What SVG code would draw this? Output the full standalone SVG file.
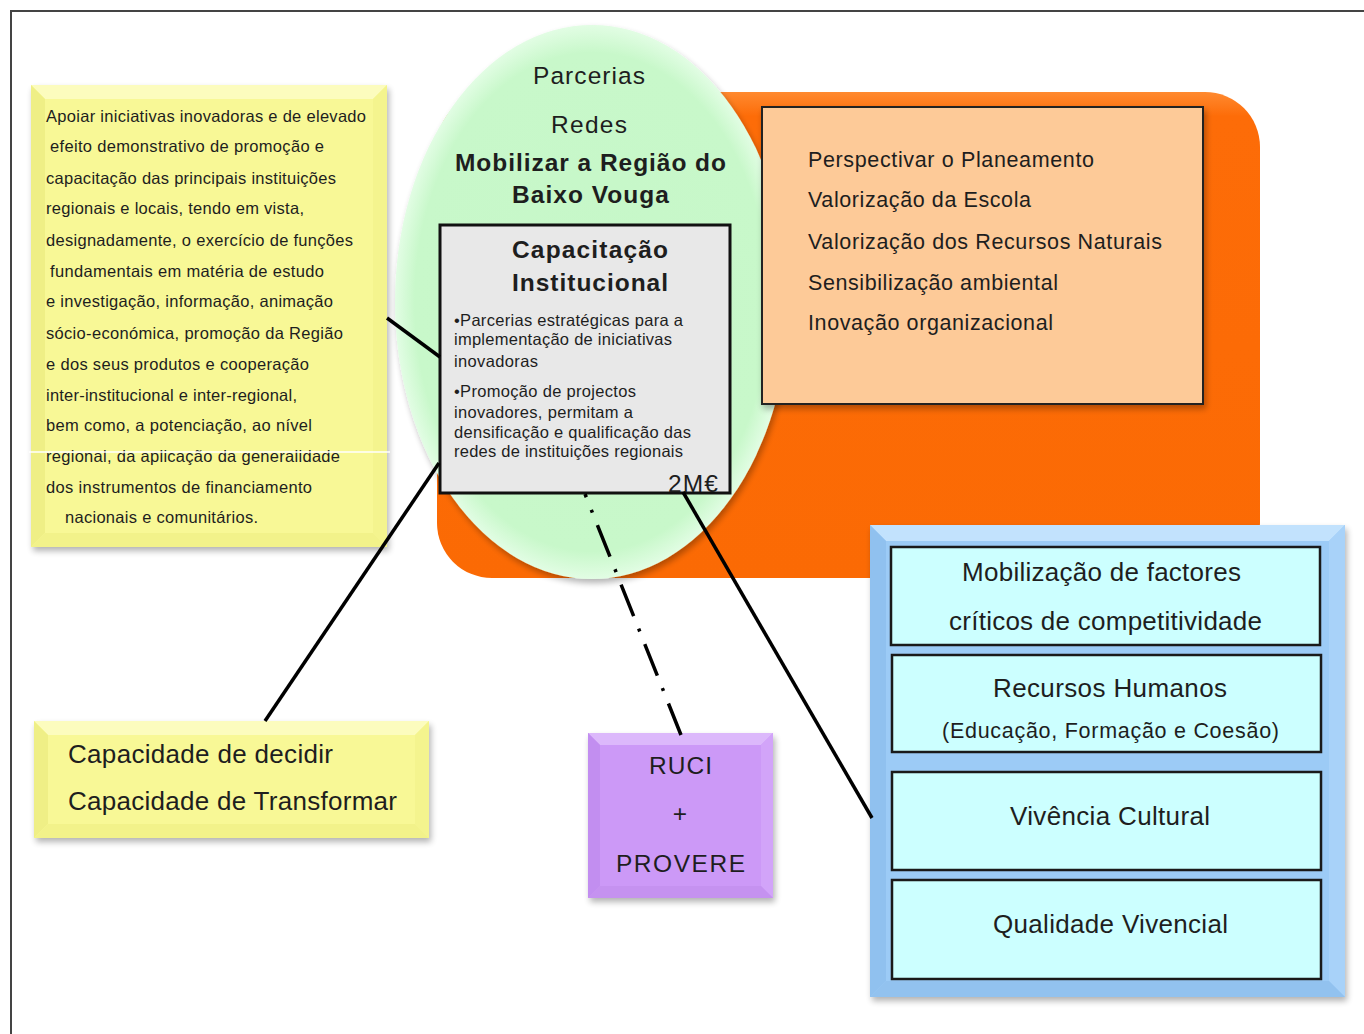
<svg xmlns="http://www.w3.org/2000/svg" width="1364" height="1034" viewBox="0 0 1364 1034">
<style>
text{font-family:"Liberation Sans",Arial,sans-serif;fill:#1e1e1e}
.sm{font-size:16.5px}
.md{font-size:21.5px}
.lg{font-size:24.5px}
.xl{font-size:26px}
.b{font-weight:bold}
.conn{stroke:#000;stroke-width:3.5;fill:none}
.inner{fill:#ccffff;stroke:#1a1a1a;stroke-width:2.5}
</style>
<defs>
<filter id="sh" x="-10%" y="-10%" width="130%" height="130%">
<feGaussianBlur in="SourceAlpha" stdDeviation="3"/>
<feOffset dx="2" dy="4"/>
<feComponentTransfer><feFuncA type="linear" slope="0.3"/></feComponentTransfer>
<feMerge><feMergeNode/><feMergeNode in="SourceGraphic"/></feMerge>
</filter>
<radialGradient id="gr" cx="0.5" cy="0.5" r="0.5">
<stop offset="0" stop-color="#c6f7c8"/>
<stop offset="0.9" stop-color="#c8f8ca"/>
<stop offset="1" stop-color="#e2fde4"/>
</radialGradient>
<linearGradient id="og" x1="0" y1="0" x2="0" y2="1">
<stop offset="0" stop-color="#ff8a30"/>
<stop offset="0.05" stop-color="#fd6c08"/>
<stop offset="1" stop-color="#fb6a04"/>
</linearGradient>
</defs>

<rect x="11" y="11" width="1400" height="1100" fill="#fff" stroke="#444" stroke-width="2"/>

<g id="yellow-text-box" filter="url(#sh)">
<rect x="31" y="85" width="356" height="462" fill="#f8f896"/>
<polygon points="31,85 387,85 373,99 45,99" fill="#fcfcbe"/>
<polygon points="31,85 45,99 45,533 31,547" fill="#efef86"/>
<polygon points="387,85 387,547 373,533 373,99" fill="#f4f48e"/>
<polygon points="31,547 45,533 373,533 387,547" fill="#f2f28a"/>
</g>
<g id="yellow-text">
<text class="sm" x="46" y="122" textLength="320">Apoiar iniciativas inovadoras e de elevado</text>
<text class="sm" x="50" y="152" textLength="274">efeito demonstrativo de promoção e</text>
<text class="sm" x="46" y="184" textLength="290">capacitação das principais instituições</text>
<text class="sm" x="46" y="214" textLength="258">regionais e locais, tendo em vista,</text>
<text class="sm" x="46" y="246" textLength="307">designadamente, o exercício de funções</text>
<text class="sm" x="50" y="277" textLength="274">fundamentais em matéria de estudo</text>
<text class="sm" x="46" y="307" textLength="287">e investigação, informação, animação</text>
<text class="sm" x="46" y="339" textLength="297">sócio-económica, promoção da Região</text>
<text class="sm" x="46" y="370" textLength="263">e dos seus produtos e cooperação</text>
<text class="sm" x="46" y="401" textLength="251">inter-institucional e inter-regional,</text>
<text class="sm" x="46" y="431" textLength="266">bem como, a potenciação, ao nível</text>
<text class="sm" x="46" y="462" textLength="294">regional, da aplicação da generalidade</text>
<text class="sm" x="46" y="493" textLength="266">dos instrumentos de financiamento</text>
<text class="sm" x="65" y="523" textLength="193">nacionais e comunitários.</text>
<line x1="29" y1="452" x2="390" y2="452" stroke="#fff" stroke-width="1.5"/>
</g>

<g id="orange-area">
<rect x="437" y="92" width="823" height="486" rx="55" ry="55" fill="url(#og)"/>
</g>

<g id="green-ellipse">
<ellipse cx="592" cy="302" rx="197" ry="277" fill="url(#gr)" filter="url(#sh)"/>
<text class="lg" x="533" y="84" textLength="112">Parcerias</text>
<text class="lg" x="551" y="133" textLength="76">Redes</text>
<text class="lg b" x="455" y="171" textLength="271">Mobilizar a Região do</text>
<text class="lg b" x="512" y="203" textLength="157">Baixo Vouga</text>
</g>

<g id="peach-box">
<rect x="762" y="107" width="441" height="297" fill="#fdca98" stroke="#222" stroke-width="2" filter="url(#sh)"/>
<text class="md" x="808" y="167" textLength="286">Perspectivar o Planeamento</text>
<text class="md" x="808" y="207" textLength="223">Valorização da Escola</text>
<text class="md" x="808" y="249" textLength="354">Valorização dos Recursos Naturais</text>
<text class="md" x="808" y="290" textLength="250">Sensibilização ambiental</text>
<text class="md" x="808" y="330" textLength="245">Inovação organizacional</text>
</g>

<g id="capacitacao-box">
<rect x="440" y="225" width="290" height="268" fill="#e8e8e8" stroke="#111" stroke-width="3"/>
<text class="lg b" x="512" y="258" textLength="156">Capacitação</text>
<text class="lg b" x="512" y="291" textLength="156">Institucional</text>
<text class="sm" x="454" y="326" textLength="229">•Parcerias estratégicas para a</text>
<text class="sm" x="454" y="345" textLength="218">implementação de iniciativas</text>
<text class="sm" x="454" y="367" textLength="84">inovadoras</text>
<text class="sm" x="454" y="397" textLength="182">•Promoção de projectos</text>
<text class="sm" x="454" y="418" textLength="179">inovadores, permitam a</text>
<text class="sm" x="454" y="438" textLength="237">densificação e qualificação das</text>
<text class="sm" x="454" y="457" textLength="229">redes de instituições regionais</text>
<text class="lg" x="668" y="492" textLength="50">2M€</text>
</g>

<g id="blue-box" filter="url(#sh)">
<rect x="870" y="525" width="475" height="472" fill="#9ccbf6"/>
<polygon points="870,525 1345,525 1329,541 886,541" fill="#c2e2fd"/>
<polygon points="870,525 886,541 886,981 870,997" fill="#90c1ef"/>
<polygon points="1345,525 1345,997 1329,981 1329,541" fill="#a8d2f9"/>
<polygon points="870,997 886,981 1329,981 1345,997" fill="#92c2ef"/>
</g>
<g id="mobilizacao">
<rect class="inner" x="891" y="547" width="429" height="98"/>
<text class="xl" x="962" y="581" textLength="279">Mobilização de factores</text>
<text class="xl" x="949" y="630" textLength="313">críticos de competitividade</text>
</g>
<g id="recursos-humanos">
<rect class="inner" x="892" y="655" width="429" height="97"/>
<text class="xl" x="993" y="697" textLength="234">Recursos Humanos</text>
<text class="md" x="942" y="738" textLength="337">(Educação, Formação e Coesão)</text>
</g>
<g id="vivencia-cultural">
<rect class="inner" x="892" y="772" width="429" height="98"/>
<text class="xl" x="1010" y="825" textLength="200">Vivência Cultural</text>
</g>
<g id="qualidade-vivencial">
<rect class="inner" x="892" y="880" width="429" height="99"/>
<text class="xl" x="993" y="933" textLength="235">Qualidade Vivencial</text>
</g>

<g id="capacidade-box">
<g filter="url(#sh)">
<rect x="34" y="721" width="395" height="117" fill="#f8f896"/>
<polygon points="34,721 429,721 415,735 48,735" fill="#fcfcbe"/>
<polygon points="34,721 48,735 48,824 34,838" fill="#efef86"/>
<polygon points="429,721 429,838 415,824 415,735" fill="#f4f48e"/>
<polygon points="34,838 48,824 415,824 429,838" fill="#f2f28a"/>
</g>
<text class="xl" x="68" y="763" textLength="265">Capacidade de decidir</text>
<text class="xl" x="68" y="810" textLength="329">Capacidade de Transformar</text>
</g>

<g id="ruci-provere">
<g filter="url(#sh)">
<rect x="588" y="733" width="185" height="165" fill="#cc99f7"/>
<polygon points="588,733 773,733 761,745 600,745" fill="#dcb8fb"/>
<polygon points="588,733 600,745 600,886 588,898" fill="#c28ef0"/>
<polygon points="773,733 773,898 761,886 761,745" fill="#d2a4f9"/>
<polygon points="588,898 600,886 761,886 773,898" fill="#c592f0"/>
</g>
<text class="lg" x="649" y="774" textLength="63">RUCI</text>
<text class="lg" x="680" y="822" text-anchor="middle">+</text>
<text class="lg" x="616" y="872" textLength="129">PROVERE</text>
</g>

<g id="connectors">
<line class="conn" x1="387" y1="318" x2="440" y2="357"/>
<line class="conn" x1="439" y1="463" x2="265" y2="721"/>
<line class="conn" x1="585" y1="494" x2="681" y2="735" stroke-dasharray="3 13.5 34 13.5" stroke-dashoffset="47"/>
<line class="conn" x1="683" y1="492" x2="872" y2="818"/>
</g>
</svg>
